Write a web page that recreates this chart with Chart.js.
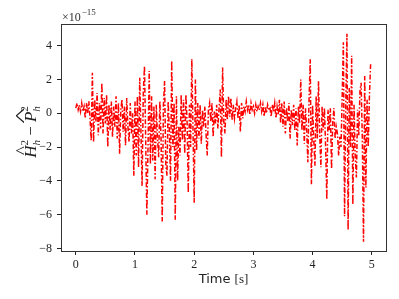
<!DOCTYPE html>
<html>
<head>
<meta charset="utf-8">
<script src="https://cdn.jsdelivr.net/npm/chart.js@4/dist/chart.umd.min.js"></script>
<style>
html,body{margin:0;padding:0;background:#fff;}
canvas{display:block;}
</style>
</head>
<body>
<canvas id="c" width="399" height="299"></canvas>
<script>
// sample step of the time axis [s]
const timeStep = 0.02;
// Ĥ² − P̂² values, ×1e-15, one row per 0.1 s
const diffValues = [
  0.3, 0.6, 0.2, 0.5, 0.1,
  0.6, 0.1, 0.4, -0.3, 0.6,
  0.0, 0.7, -0.3, -1.6, 2.4,
  -1.7, 0.8, -0.5, 1.2, -1.3,
  0.6, -0.9, 1.8, -1.2, 0.9,
  -0.6, 1.1, -2.0, 0.5, -1.0,
  0.7, -1.4, 0.4, -0.8, 1.0,
  -1.5, 0.6, -2.4, 0.2, 0.8,
  -1.1, 0.4, -1.9, 0.9, -0.8,
  -1.7, 0.6, -1.2, 0.0, -3.7,
  0.7, -2.5, 1.0, -3.2, 2.1,
  -1.0, -4.3, 1.2, 2.8, -1.5,
  -6.0, -2.0, 2.5, -3.0, 1.0,
  -2.8, 0.4, -3.9, 0.5, -1.5,
  -2.6, 0.7, -1.5, -6.4, 0.5,
  1.9, -3.0, -3.7, 0.7, -1.0,
  -4.0, 3.1, -2.0, 0.6, -6.3,
  1.0, -4.0, -0.8, -2.5, 1.1,
  -1.6, 0.8, -2.4, 1.1, -0.5,
  -4.7, 0.5, -2.0, 3.2, -1.0,
  -5.3, 2.0, -2.2, 0.6, -1.5,
  0.5, -1.8, 0.2, -0.8, 0.4,
  -1.2, -2.5, 0.2, 0.6, -0.5,
  0.6, -1.4, 0.1, -0.6, 0.5,
  -0.9, 0.3, 1.4, -2.6, 2.7,
  -0.5, -1.2, 0.8, -0.4, 1.0,
  -0.2, 0.9, -0.4, 0.5, -0.3,
  0.3, 0.7, -0.3, 0.5, -1.1,
  0.6, -0.3, 0.4, 0.1, 0.7,
  0.2, 0.5, -0.1, 0.6, 0.2,
  0.4, 0.0, 0.5, 0.1, 0.4,
  0.2, 0.6, 0.1, 0.5, -0.2,
  0.4, 0.0, 0.5, 0.2, 0.3,
  -0.2, 0.5, 0.1, 0.6, -0.3,
  0.4, -0.1, 0.8, -0.6, 0.6,
  -0.8, 0.7, -1.2, 0.3, -0.5,
  0.6, -1.5, 0.2, -0.7, 0.5,
  -1.0, 0.3, -1.9, 0.4, -0.6,
  2.0, -1.0, 0.5, -1.8, 0.3,
  -1.0, -2.9, 0.8, 3.2, -4.2,
  0.5, -1.6, -3.1, 1.0, -1.5,
  1.9, -1.2, -3.2, 0.4, -1.0,
  0.3, -2.0, -5.1, 0.2, -1.0,
  0.3, -3.3, -0.6, 0.3, -1.5,
  -0.8, -1.2, -2.5, -1.4, -2.0,
  1.0, 4.2, -6.1, 0.5, 4.7,
  -6.9, 1.5, -2.0, 3.4, -5.4,
  0.5, -2.5, -3.8, 0.2, -1.3,
  1.3, 1.8, -1.5, -7.6, 2.2,
  -4.4, 0.8, -2.0, 1.0, 2.9
];
const xTickValues = [0, 1, 2, 3, 4, 5];
const yTickValues = [-8, -6, -4, -2, 0, 2, 4];
const xLabelMain = "Time";
const xLabelUnit = "[s]";
const yExponentBase = "×10";
const yExponentPower = "−15";

const points = diffValues.map((v, i) => ({ x: +(i * timeStep).toFixed(4), y: v }));

const SERIF = '"Liberation Serif", "DejaVu Serif", serif';
const fmt = v => String(v).replace('-', '\u2212');

const framePlugin = {
  id: 'frame',
  afterDraw(chart) {
    const { ctx, chartArea: a } = chart;
    ctx.save();
    ctx.strokeStyle = '#333';
    ctx.lineWidth = 1;
    ctx.strokeRect(Math.round(a.left) + 0.5, Math.round(a.top) + 0.5,
                   Math.round(a.right - a.left), Math.round(a.bottom - a.top));
    ctx.fillStyle = '#333';
    ctx.textBaseline = 'alphabetic';
    // offset text
    ctx.font = '12px ' + SERIF;
    ctx.textAlign = 'left';
    ctx.fillText(yExponentBase, a.left + 1, a.top - 3);
    const w0 = ctx.measureText(yExponentBase).width;
    ctx.font = '9px ' + SERIF;
    ctx.fillText(yExponentPower, a.left + 1 + w0 + 1, a.top - 9);
    // x title
    ctx.fillStyle = '#222';
    ctx.font = '13px "DejaVu Sans", sans-serif';
    const wm = ctx.measureText(xLabelMain + ' ').width;
    ctx.font = '13px ' + SERIF;
    const wu = ctx.measureText(xLabelUnit).width;
    const cx = (a.left + a.right) / 2;
    let sx = cx - (wm + wu) / 2;
    ctx.font = '13px "DejaVu Sans", sans-serif';
    ctx.fillText(xLabelMain + ' ', sx, 283);
    ctx.font = '13px ' + SERIF;
    ctx.fillText(xLabelUnit, sx + wm, 283);
    // y title (rotated)
    const cy = 132;
    ctx.translate(36, cy);
    ctx.rotate(-Math.PI / 2);
    const big = 'italic 17px ' + SERIF;
    const small = '11px ' + SERIF;
    const smallI = 'italic 11px ' + SERIF;
    const norm = '17px ' + SERIF;
    const parts = [
      { t: 'H', f: big, dy: 0, hat: true },
      { t: '2', f: small, dy: -8, sub: 'h' },
      { t: ' \u2212 ', f: norm, dy: 0 },
      { t: 'P', f: big, dy: 0, hat: true, wide: true },
      { t: '2', f: small, dy: -8, sub: 'h' }
    ];
    let total = 0;
    parts.forEach(p => { ctx.font = p.f; p.w = ctx.measureText(p.t).width; total += p.w; });
    let px = -total / 2;
    parts.forEach(p => {
      ctx.font = p.f;
      ctx.fillText(p.t, px, p.dy);
      if (p.hat) {
        ctx.font = norm;
        const hw = ctx.measureText('^').width;
        ctx.save();
        const sc = p.wide ? 2.0 : 1.1;
        ctx.scale(sc, 1);
        ctx.fillText('^', (px + p.w / 2 + 1) / sc - hw / 2, -9);
        ctx.restore();
      }
      if (p.sub) {
        ctx.font = smallI;
        ctx.fillText(p.sub, px, 4);
      }
      px += p.w;
    });
    ctx.restore();
  }
};

new Chart(document.getElementById('c'), {
  type: 'line',
  data: {
    datasets: [{
      data: points,
      borderColor: '#ff0000',
      borderWidth: 1.5,
      borderDash: [5, 2, 1.5, 2],
      pointRadius: 0,
      tension: 0,
      fill: false
    }]
  },
  options: {
    responsive: false,
    animation: false,
    devicePixelRatio: 1,
    layout: { padding: { left: 0, top: 24, right: 13, bottom: 0 } },
    plugins: { legend: { display: false }, tooltip: { enabled: false } },
    scales: {
      x: {
        type: 'linear',
        min: -0.25,
        max: 5.24,
        afterBuildTicks: s => { s.ticks = xTickValues.map(v => ({ value: v })); },
        afterFit: s => { s.height = 48; },
        grid: { drawOnChartArea: false, drawTicks: true, tickLength: 4, color: '#222' },
        border: { display: true, color: '#333', width: 1 },
        ticks: { color: '#222', padding: 3, maxRotation: 0, font: { family: SERIF, size: 12 }, callback: v => fmt(v) }
      },
      y: {
        min: -8.15,
        max: 5.28,
        afterBuildTicks: s => { s.ticks = yTickValues.map(v => ({ value: v })); },
        afterFit: s => { s.width = 61; },
        grid: { drawOnChartArea: false, drawTicks: true, tickLength: 4, color: '#222' },
        border: { display: true, color: '#333', width: 1 },
        ticks: { color: '#222', padding: 5, font: { family: SERIF, size: 12 }, callback: v => fmt(v) }
      }
    }
  },
  plugins: [framePlugin]
});
</script>
</body>
</html>
